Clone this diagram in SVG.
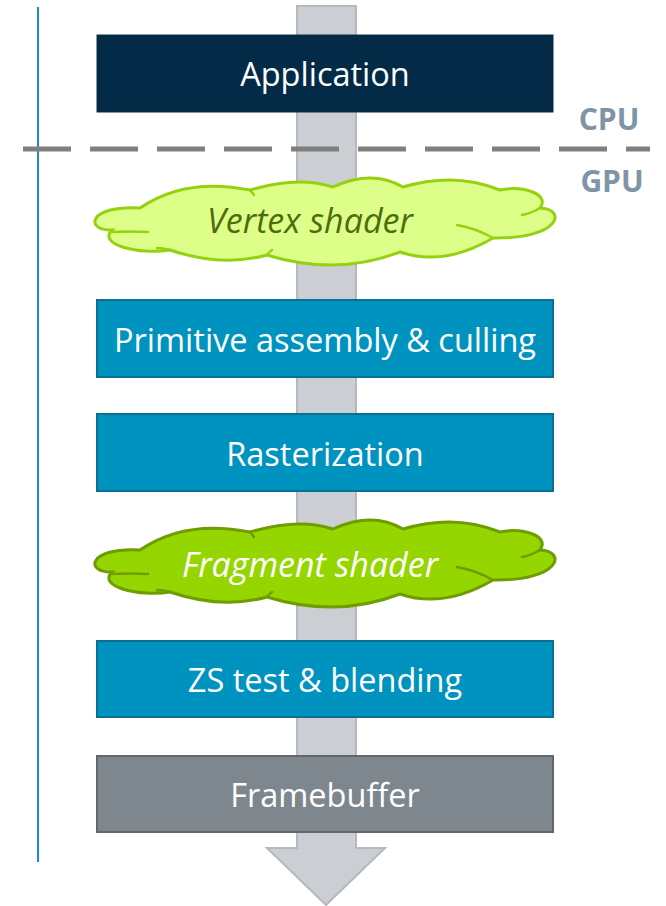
<svg xmlns="http://www.w3.org/2000/svg" xmlns:xlink="http://www.w3.org/1999/xlink" width="666" height="906" viewBox="0 0 666 906">
  <style>
    .box text, .cloud text { font-family: "Open Sans", "Liberation Sans", sans-serif; text-anchor: middle; }
    .box text { fill: #ffffff; font-size: 32.5px; }
    .stage rect { fill: #0093c0; stroke: #0b6f91; stroke-width: 2; }
    .cloud text { font-style: italic; font-size: 34px; }
    .side { font-family: "Open Sans", "Liberation Sans", sans-serif; font-size: 30px; font-weight: bold; fill: #7f95a7; text-anchor: middle; }
    .inner { fill: none; stroke-width: 2.5; stroke-linecap: round; }
  </style>
  <defs>
    <!-- cloud outline centred on the origin, about 456 x 88 -->
    <path id="cloudShape" d="M -185,-15 Q -140,-46 -75,-33 Q -26.5,-47.5 8,-36 Q 47,-54 78,-36 Q 129.5,-51.5 175,-33 C 200,-38 225,-28 215,-15 C 242,-14 236,16 168,15 Q 118.5,44 75,29 Q 11.5,53.5 -58,32 Q -103.5,44.5 -155,27 C -185,32 -228,22 -213,7 C -240,8 -238,-18 -185,-15 Z"/>
    <path id="cloudInner" d="M -215,9 Q -195,8 -177,9 M -155,27 Q -162,25 -168,25 M 168,15 Q 150,5 132,2 M 215,-15 Q 207,-10 197,-8 M -75,-33 Q -73,-31 -71,-28 M -58,32 Q -56,29 -53,27"/>
  </defs>

  <!-- left rule -->
  <line x1="38" y1="7" x2="38" y2="862" stroke="#1b8fc0" stroke-width="2"/>

  <!-- flow arrow behind the stages -->
  <g id="connectors">
    <polygon points="297,6 356,6 356,848 385,848 326,905 267,848 297,848" fill="#cbced2" stroke="#b5b9bd" stroke-width="2"/>
  </g>

  <!-- CPU / GPU split -->
  <line x1="23" y1="149" x2="650" y2="149" stroke="#7f7f7f" stroke-width="5" stroke-dasharray="48 19"/>
  <text class="side" x="609" y="130">CPU</text>
  <text class="side" x="612" y="192">GPU</text>

  <g id="application" class="box">
    <rect x="97" y="35" width="456" height="77" fill="#032b47" stroke="#0b2e45" stroke-width="1"/>
    <text x="325" y="86">Application</text>
  </g>

  <g id="vertex-shader" class="cloud">
    <use xlink:href="#cloudShape" transform="translate(325,223)" fill="#ddff8a" stroke="#95d10f" stroke-width="3"/>
    <use xlink:href="#cloudInner" transform="translate(325,223)" class="inner" stroke="#95d10f"/>
    <text x="310" y="233" fill="#4e6c0c">Vertex shader</text>
  </g>

  <g id="primitive-assembly" class="box stage">
    <rect x="97" y="300" width="456" height="77"/>
    <text x="325" y="352">Primitive assembly &amp; culling</text>
  </g>

  <g id="rasterization" class="box stage">
    <rect x="97" y="414" width="456" height="77"/>
    <text x="325" y="466">Rasterization</text>
  </g>

  <g id="fragment-shader" class="cloud">
    <use xlink:href="#cloudShape" transform="translate(325,565)" fill="#95d600" stroke="#6f9c00" stroke-width="3"/>
    <use xlink:href="#cloudInner" transform="translate(325,565)" class="inner" stroke="#6f9c00"/>
    <text x="310" y="577" fill="#ffffff">Fragment shader</text>
  </g>

  <g id="zs-test" class="box stage">
    <rect x="97" y="641" width="456" height="76"/>
    <text x="325" y="692">ZS test &amp; blending</text>
  </g>

  <g id="framebuffer" class="box">
    <rect x="97" y="756" width="456" height="76" fill="#7f878e" stroke="#60676d" stroke-width="2"/>
    <text x="325" y="807">Framebuffer</text>
  </g>
</svg>
